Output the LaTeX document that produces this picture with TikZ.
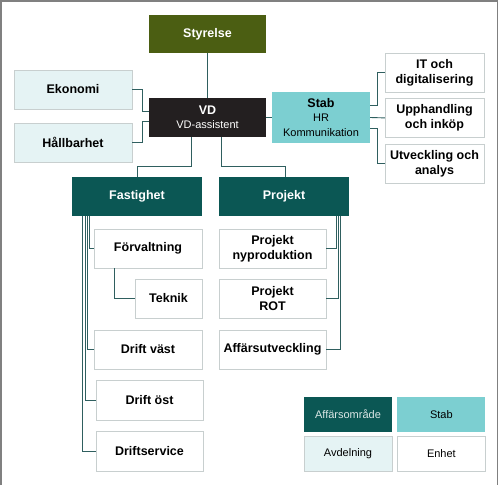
\documentclass[tikz,border=0pt]{standalone}
\usepackage{fontspec}
\setmainfont{Liberation Sans}
\usetikzlibrary{positioning, calc}

\definecolor{olive}{HTML}{4B5E12}
\definecolor{vdblack}{HTML}{231F20}
\definecolor{teal}{HTML}{0B5754}
\definecolor{stabcol}{HTML}{7CCFD1}
\definecolor{avdcol}{HTML}{E5F3F4}
\definecolor{edgegray}{HTML}{C8CFCF}
\definecolor{linecol}{HTML}{2F5F5F}

\begin{document}
\begin{tikzpicture}[x=1pt, y=-1pt]

% Styles
\tikzstyle{box} = [rectangle, inner sep=0pt, align=center, font=\fontsize{12.5}{15}\selectfont\bfseries, minimum height=39pt]
\tikzstyle{area} = [box, fill=teal, text=white, minimum width=130pt]
\tikzstyle{dept} = [box, fill=avdcol, draw=edgegray, minimum width=118pt]
\tikzstyle{unit} = [box, fill=white, draw=edgegray, minimum width=108pt]
\tikzstyle{legend} = [rectangle, inner sep=0pt, minimum width=88pt, minimum height=35pt, font=\fontsize{11}{13}\selectfont]
\tikzstyle{conn} = [linecol, line width=0.9pt]

\useasboundingbox (0,0) rectangle (500,485);
\draw[gray, line width=1.5pt] (0.75,485) -- (0.75,0.75) -- (497.5,0.75) -- (497.5,485);

% --- Top level ---
\node (styrelse) [box, fill=olive, text=white, minimum width=117pt, minimum height=38pt] at (207.5,34) {Styrelse};
\node (vd) [box, fill=vdblack, text=white, minimum width=117pt] at (207.5,117.5) {VD\\[-1pt]{\fontsize{11}{13}\selectfont\mdseries VD-assistent}};
\node (stab) [box, fill=stabcol, minimum width=98pt, minimum height=51pt, font=\fontsize{11}{14.5}\selectfont] at (321,117.5) {{\fontsize{12.5}{14}\selectfont\bfseries Stab}\\HR\\Kommunikation};

% Avdelningar under VD
\node (ekonomi) [dept] at (73,89.5) {Ekonomi};
\node (hallbarhet) [dept] at (73,142.5) {Hållbarhet};

% Stab units
\node (it) [unit, minimum width=99pt] at (434.5,72.5) {IT och\\digitalisering};
\node (upph) [unit, minimum width=99pt, below=6pt of it] {Upphandling\\och inköp};
\node (utv) [unit, minimum width=99pt, below=6pt of upph] {Utveckling och\\analys};

% --- Affärsområden ---
\node (fastighet) [area] at (137,196.5) {Fastighet};
\node (projekt) [area] at (284,196.5) {Projekt};

% Fastighet units
\node (forv) [unit] at (148,248.5) {Förvaltning};
\node (teknik) [unit, minimum width=67pt] at (168.5,298.5) {Teknik};
\node (driftv) [unit] at (148,349.5) {Drift väst};
\node (drifto) [unit, minimum width=107pt, minimum height=40pt] at (149.5,400) {Drift öst};
\node (drifts) [unit, minimum width=107pt, minimum height=40pt] at (149.5,451) {Driftservice};

% Projekt units
\node (nyprod) [unit, minimum width=107pt] at (272.5,248.5) {Projekt\\nyproduktion};
\node (rot) [unit, minimum width=107pt] at (272.5,298.5) {Projekt\\ROT};
\node (affut) [unit, minimum width=107pt] at (272.5,349.5) {Affärsutveckling};

% --- Legend ---
\node (lgaff) [legend, fill=teal, text=white!85!teal] at (348,414.5) {Affärsområde};
\node (lgstab) [legend, fill=stabcol, right=5pt of lgaff] {Stab};
\node (lgavd) [legend, fill=avdcol, draw=edgegray, below=4pt of lgaff] {Avdelning};
\node (lgenhet) [legend, fill=white, draw=edgegray, below=4pt of lgstab] {Enhet};

% --- Connectors ---
\draw[conn] (styrelse) -- (vd);
\draw[conn] (ekonomi.east) -- ++(10,0) |- ([yshift=6.5pt]vd.west);
\draw[conn] (hallbarhet.east) -- ++(10,0) |- ([yshift=-3.5pt]vd.west);
\draw[conn] (vd) -- (stab);
\draw[conn] ([xshift=-16.5pt]vd.south) -- ++(0,29) -| (fastighet.north);
\draw[conn] ([xshift=13.5pt]vd.south) -- ++(0,29) -| ([xshift=1pt]projekt.north);

\draw[conn] ([yshift=12.5pt]stab.east) -- ++(7,0) |- (it.west);
\draw[conn] (stab.east) -- (upph.west);
\draw[conn] ([yshift=-10.5pt]stab.east) -- ++(7,0) |- (utv.west);

\draw[conn] ([xshift=18pt]fastighet.south west) |- (forv.west);
\draw[conn] ([xshift=15.6pt]fastighet.south west) |- (driftv.west);
\draw[conn] ([xshift=13.3pt]fastighet.south west) |- (drifto.west);
\draw[conn] ([xshift=11pt]fastighet.south west) |- (drifts.west);
\draw[conn] ([xshift=-34pt]forv.south) |- (teknik.west);

\draw[conn] ([xshift=-13pt]projekt.south east) |- (nyprod.east);
\draw[conn] ([xshift=-11pt]projekt.south east) |- (rot.east);
\draw[conn] ([xshift=-8.7pt]projekt.south east) |- (affut.east);

\end{tikzpicture}
\end{document}
